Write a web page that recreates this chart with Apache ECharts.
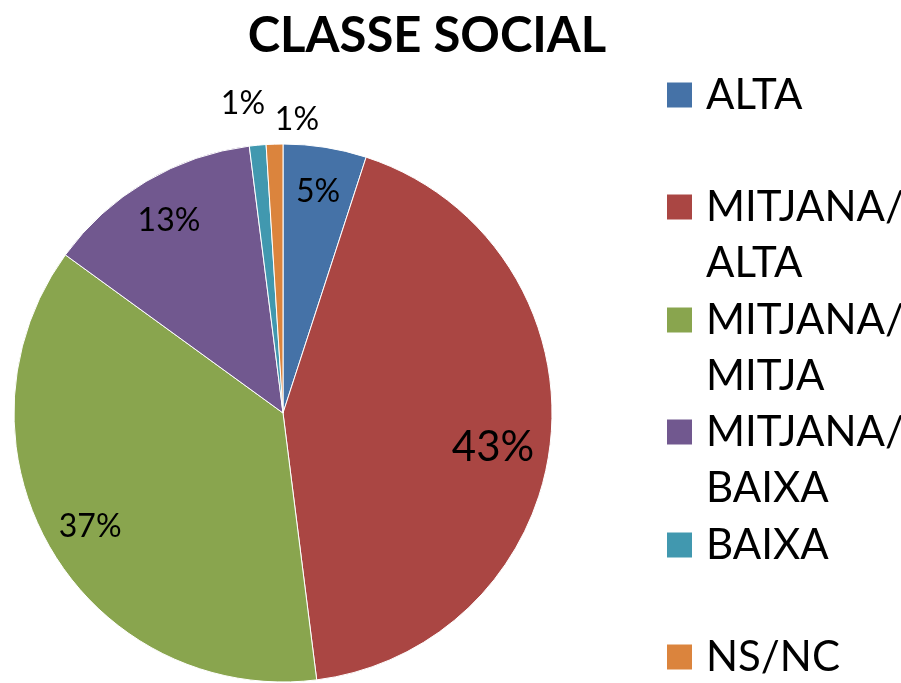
<!DOCTYPE html>
<html lang="ca">
<head>
    <meta charset="UTF-8">
    <title>Classe social</title>
    <script src="https://cdn.jsdelivr.net/npm/echarts@6/dist/echarts.min.js"></script>
    <style>
        html, body { margin: 0; padding: 0; background: #fff; }
    </style>
</head>
<body>
<div id="main" style="width: 901px;height:683px;"></div>

<script type="text/javascript">
    // dades (percentatges llegits del gràfic)
    var categories = ['ALTA', 'MITJANA/\nALTA', 'MITJANA/\nMITJA', 'MITJANA/\nBAIXA', 'BAIXA', 'NS/NC'];
    var values = [5, 43, 37, 13, 1, 1];

    var colors = ['#4572A7', '#AA4643', '#89A54E', '#71588F', '#4198AF', '#DB843D'];
    var fontFam = 'Lato, "Liberation Sans", sans-serif';
    var lineH = 56;
    var legendCenters = [95, 207, 320, 432, 545, 657];

    var myChart = echarts.init(document.getElementById('main'));

    var pieData = categories.map(function (c, i) {
        return {name: c, value: values[i]};
    });

    // una llegenda per element, per situar el quadrat a la primera línia
    var legends = categories.map(function (c, i) {
        var twoLines = c.indexOf('\n') >= 0;
        return {
            data: [c],
            orient: 'vertical',
            left: 665,
            top: legendCenters[i] - (twoLines ? 1.5 : 0.5) * lineH,
            padding: 0,
            itemWidth: 27,
            itemHeight: 27,
            icon: 'rect',
            selectedMode: false,
            formatter: function (name) {
                return name.indexOf('\n') >= 0 ? '\n' + name : name;
            },
            textStyle: {
                fontFamily: fontFam,
                fontSize: 42,
                lineHeight: lineH,
                padding: [0, 0, 0, 8],
                color: '#000'
            }
        };
    });

    var option = {
        color: colors,
        animation: false,
        title: {
            text: 'CLASSE SOCIAL',
            left: 422,
            top: 7,
            textAlign: 'center',
            textStyle: {
                fontFamily: fontFam,
                fontWeight: 'bold',
                fontSize: 49,
                color: '#000'
            }
        },
        legend: legends,
        series: [
            {
                name: 'classe',
                type: 'pie',
                center: [283, 413],
                radius: 269,
                startAngle: 90,
                clockwise: true,
                label: {show: false},
                labelLine: {show: false},
                itemStyle: {borderColor: '#fff', borderWidth: 1},
                emphasis: {disabled: true},
                data: pieData
            },
            {
                // només etiquetes, anell transparent
                name: 'etiquetes',
                type: 'pie',
                center: [283, 413],
                radius: [173, 269],
                startAngle: 90,
                silent: true,
                itemStyle: {color: 'rgba(0,0,0,0)'},
                emphasis: {disabled: true},
                labelLine: {show: false},
                label: {
                    show: true,
                    position: 'inside',
                    formatter: '{d}%',
                    fontFamily: fontFam,
                    fontSize: 32,
                    color: '#000'
                },
                labelLayout: function (p) {
                    if (p.dataIndex === 1) return {dx: -13, dy: 13};
                    if (p.dataIndex === 4) return {dx: -19, dy: -86};
                    if (p.dataIndex === 5) return {dx: 21, dy: -69};
                    return {};
                },
                data: pieData.map(function (d, i) {
                    var o = {name: d.name, value: d.value};
                    if (i === 1) o.label = {fontSize: 42};
                    return o;
                })
            }
        ]
    };

    myChart.setOption(option);
</script>

</body>
</html>
